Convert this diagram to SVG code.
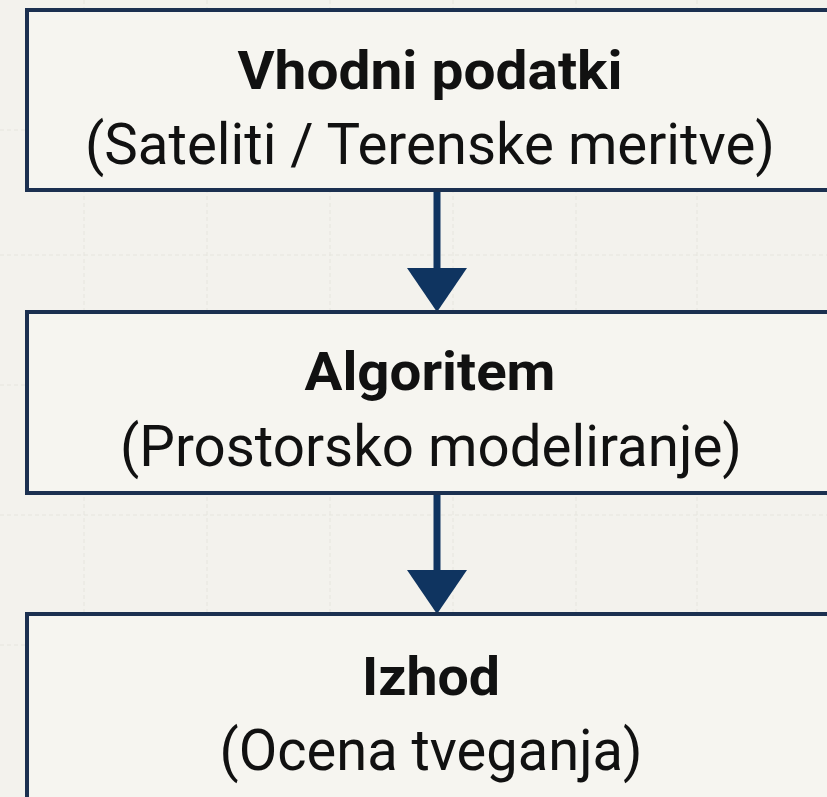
<svg xmlns="http://www.w3.org/2000/svg" width="827" height="797" viewBox="0 0 827 797">
<defs>
<style>
.bg{fill:#f3f2ed}
.grid{stroke:#e6e5de;stroke-width:1;stroke-dasharray:4 3}
.box{fill:#f6f5f0;stroke:#1b3050;stroke-width:4}
.t1{font-family:Roboto,"Liberation Sans",sans-serif;font-weight:bold;fill:#111;text-anchor:middle}
.t2{font-family:Roboto,"Liberation Sans",sans-serif;font-weight:normal;fill:#111;text-anchor:middle}
.edge{stroke:#0f3460;stroke-width:7;fill:none}
.head{fill:#0f3460}
</style>
</defs>
<rect class="bg" x="0" y="0" width="827" height="797"/>
<g id="grid">
<line class="grid" x1="84" y1="0" x2="84" y2="797"/>
<line class="grid" x1="207" y1="0" x2="207" y2="797"/>
<line class="grid" x1="330" y1="0" x2="330" y2="797"/>
<line class="grid" x1="453" y1="0" x2="453" y2="797"/>
<line class="grid" x1="576" y1="0" x2="576" y2="797"/>
<line class="grid" x1="697" y1="0" x2="697" y2="797"/>
<line class="grid" x1="0" y1="130" x2="827" y2="130"/>
<line class="grid" x1="0" y1="255" x2="827" y2="255"/>
<line class="grid" x1="0" y1="385" x2="827" y2="385"/>
<line class="grid" x1="0" y1="515" x2="827" y2="515"/>
<line class="grid" x1="0" y1="645" x2="827" y2="645"/>
</g>
<g id="connectors">
<line class="edge" x1="437" y1="190" x2="437" y2="272"/>
<polygon class="head" points="407,268 467,268 437,312"/>
<line class="edge" x1="437" y1="493" x2="437" y2="574"/>
<polygon class="head" points="407,570 467,570 437,614"/>
</g>
<g id="node-input">
<rect class="box" x="27" y="10" width="820" height="180"/>
<text class="t1" x="430" y="89" font-size="54" textLength="385" lengthAdjust="spacingAndGlyphs">Vhodni podatki</text>
<text class="t2" x="430" y="164" font-size="57" textLength="690" lengthAdjust="spacingAndGlyphs">(Sateliti / Terenske meritve)</text>
</g>
<g id="node-algorithm">
<rect class="box" x="27" y="312" width="820" height="181"/>
<text class="t1" x="430" y="390" font-size="54" textLength="251" lengthAdjust="spacingAndGlyphs">Algoritem</text>
<text class="t2" x="431" y="466" font-size="57" textLength="622" lengthAdjust="spacingAndGlyphs">(Prostorsko modeliranje)</text>
</g>
<g id="node-output">
<rect class="box" x="27" y="614" width="820" height="200"/>
<text class="t1" x="431" y="695" font-size="54" textLength="138" lengthAdjust="spacingAndGlyphs">Izhod</text>
<text class="t2" x="431" y="770" font-size="57" textLength="423" lengthAdjust="spacingAndGlyphs">(Ocena tveganja)</text>
</g>
</svg>
